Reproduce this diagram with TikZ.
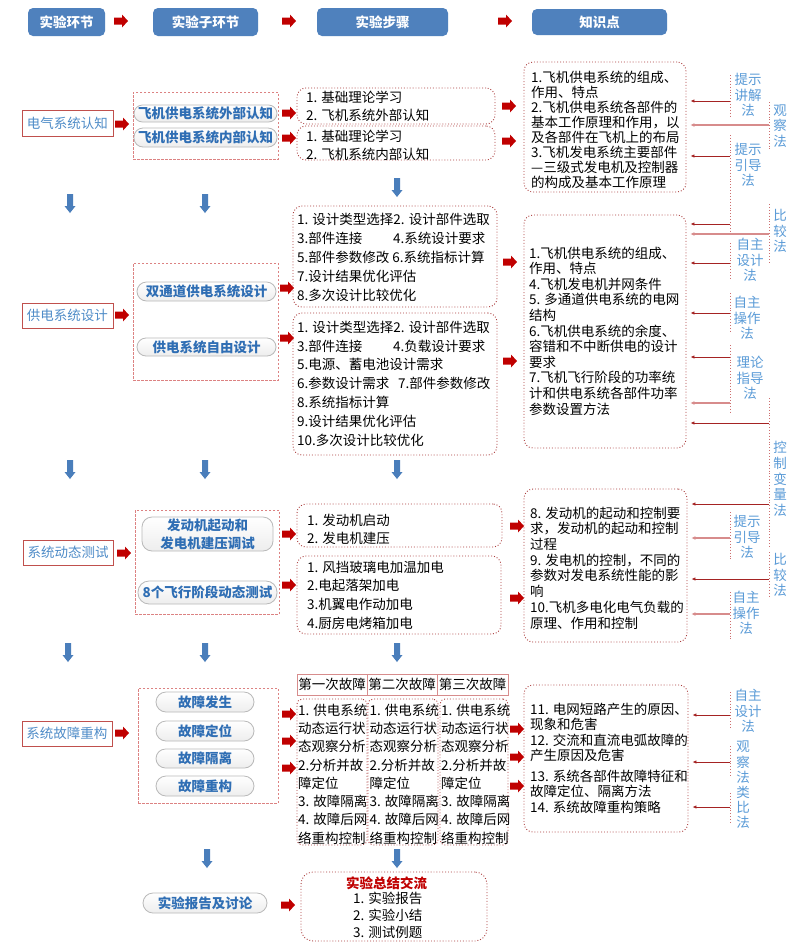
\documentclass[tikz,border=0pt]{standalone}
\usepackage{fontspec}
\setmainfont{Noto Sans CJK SC}
\usetikzlibrary{fit,arrows.meta}
\newcommand\myfs{\fontsize{13.5}{15}\selectfont}
\definecolor{hdrblue}{RGB}{79,129,189}
\definecolor{arrred}{RGB}{192,0,0}
\definecolor{arrblue}{RGB}{74,126,187}
\definecolor{boxred}{RGB}{192,80,77}
\definecolor{dotred}{RGB}{170,60,60}
\definecolor{dashpink}{RGB}{220,130,130}
\definecolor{lblue}{RGB}{79,140,200}
\definecolor{pblue}{RGB}{47,110,180}
\definecolor{mblue}{RGB}{90,155,215}
\definecolor{mred}{RGB}{165,35,35}
\definecolor{mpink}{RGB}{215,140,140}
\definecolor{vpink}{RGB}{205,110,110}
\begin{document}
\begin{tikzpicture}[x=1pt,y=-1pt,
  hdr/.style={fill=hdrblue, draw=none, rounded corners=5pt, text=white, font=\bfseries\myfs, inner sep=0pt},
  lbox/.style={draw=boxred, line width=0.9pt, fill=white, text=lblue, font=\myfs, inner sep=0pt},
  dbox/.style={draw=dashpink, dash pattern=on 2.5pt off 1.5pt, line width=0.8pt, inner sep=0pt},
  pill/.style={draw=gray!55, line width=0.8pt, top color=white, bottom color=gray!14, text=pblue, font=\bfseries\myfs, inner sep=0pt, align=center},
  sbox/.style={draw=dotred, dotted, line width=0.9pt, rounded corners=9pt, inner sep=0pt},
  fhead/.style={draw=mpink, line width=0.7pt, inner sep=0pt, font=\myfs},
  txt/.style={inner sep=0pt, align=left, anchor=west, font=\myfs},
  mlab/.style={text=mblue, align=center, inner sep=0pt, font=\fontsize{13.5}{15.5}\selectfont},
  vline/.style={draw=vpink, dotted, line width=0.9pt},
  marrow/.style={-{Latex[length=4pt,width=3.5pt]}, line width=0.9pt, draw=mred, shorten >=4pt},
  marrowp/.style={-{Latex[length=4pt,width=4pt]}, line width=1.8pt, draw=mpink, shorten >=4pt},
  rarr/.pic={\fill[arrred] (0,-3.5) -- (8,-3.5) -- (8,-6.5) -- (14,0) -- (8,6.5) -- (8,3.5) -- (0,3.5) -- cycle;},
  darr/.pic={\fill[arrblue] (-3,0) -- (3,0) -- (3,12) -- (5.5,12) -- (0,19) -- (-5.5,12) -- (-3,12) -- cycle;}
]
\useasboundingbox (0,0) rectangle (793,951);
\fill[white] (0,0) rectangle (793,951);

% ---------- header ----------
\node[hdr, minimum width=77pt, minimum height=28pt] (h1) at (66.5,22) {实验环节};
\node[hdr, minimum width=105pt, minimum height=28pt] (h2) at (205.5,22) {实验子环节};
\node[hdr, minimum width=131pt, minimum height=28pt] (h3) at (382.5,22) {实验步骤};
\node[hdr, minimum width=135pt, minimum height=26pt] (h4) at (599.5,22) {知识点};
\pic at (114,21) {rarr};
\pic at (282,21) {rarr};
\pic at (498,21) {rarr};

% ---------- row 1 ----------
\node[lbox, minimum width=91pt, minimum height=26pt] (L1) at (67.5,123) {电气系统认知};
\pic at (115,124) {rarr};
\node[dbox, fit={(133,92) (278,159)}] (D1) {};
\node[pill, rounded corners=8.5pt, minimum width=143pt, minimum height=17pt] (P1a) at (205.5,113.5) {飞机供电系统外部认知};
\node[pill, rounded corners=9pt, minimum width=143pt, minimum height=19pt] (P1b) at (205.5,137.5) {飞机供电系统内部认知};
\pic at (282,113) {rarr};
\pic at (282,138) {rarr};
\node[sbox, fit={(297,88) (495,124)}] (S1) {};
\node[txt, font=\fontsize{13.5}{18}\selectfont] (S1t) at (306,106) {1. 基础理论学习\\2. 飞机系统外部认知};
\node[sbox, fit={(297,126) (495,160)}] (S2) {};
\node[txt, font=\fontsize{13.5}{18}\selectfont] (S2t) at (306,145) {1. 基础理论学习\\2. 飞机系统内部认知};
\pic at (502,106) {rarr};
\pic at (502,141) {rarr};
\node[sbox, fit={(524,62) (686,192)}] (K1) {};
\node[txt] (K1t) at (531,129.5) {1.飞机供电系统的组成、\\作用、特点\\2.飞机供电系统各部件的\\基本工作原理和作用，以\\及各部件在飞机上的布局\\3.飞机发电系统主要部件\\—三级式发电机及控制器\\的构成及基本工作原理};

\pic at (70,194) {darr};
\pic at (205,194) {darr};
\pic at (397,178) {darr};

% ---------- row 2 ----------
\node[lbox, minimum width=91pt, minimum height=25pt] (L2) at (67.5,315.5) {供电系统设计};
\pic at (115,315) {rarr};
\node[dbox, fit={(133,263) (278,380)}] (D2) {};
\node[pill, rounded corners=9.5pt, minimum width=139pt, minimum height=19pt] (P2a) at (206.5,291.5) {双通道供电系统设计};
\node[pill, rounded corners=9pt, minimum width=139pt, minimum height=18pt] (P2b) at (206.5,347) {供电系统自由设计};
\pic at (280,288) {rarr};
\pic at (280,338) {rarr};
\node[sbox, fit={(293,206) (497,307)}] (SA) {};
\node[txt, font=\fontsize{13.5}{19}\selectfont] (SAt) at (297,257) {1. 设计类型选择2. 设计部件选取\\\makebox[96pt][l]{3.部件连接}4.系统设计要求\\5.部件参数修改 6.系统指标计算\\7.设计结果优化评估\\8.多次设计比较优化};
\node[sbox, fit={(293,313) (497,455)}] (SB) {};
\node[txt, font=\fontsize{13.5}{18.8}\selectfont] (SBt) at (297,383.5) {1. 设计类型选择2. 设计部件选取\\\makebox[96pt][l]{3.部件连接}4.负载设计要求\\5.电源、蓄电池设计需求\\\makebox[101pt][l]{6.参数设计需求}7.部件参数修改\\8.系统指标计算\\9.设计结果优化评估\\10.多次设计比较优化};
\pic at (503,262) {rarr};
\pic at (503,361) {rarr};
\node[sbox, fit={(524,215) (686,448)}] (K2) {};
\node[txt, font=\fontsize{13.5}{15.6}\selectfont] (K2t) at (529,331) {1.飞机供电系统的组成、\\作用、特点\\4.飞机发电机并网条件\\5. 多通道供电系统的电网\\结构\\6.飞机供电系统的余度、\\容错和不中断供电的设计\\要求\\7.飞机飞行阶段的功率统\\计和供电系统各部件功率\\参数设置方法};

\pic at (70,460) {darr};
\pic at (205,460) {darr};
\pic at (397,460) {darr};

% ---------- row 3 ----------
\node[lbox, minimum width=90pt, minimum height=25pt] (L3) at (68,552.5) {系统动态测试};
\pic at (117,553) {rarr};
\node[dbox, fit={(135,510) (279,614)}] (D3) {};
\node[pill, rounded corners=10pt, minimum width=131pt, minimum height=34pt, font=\bfseries\fontsize{13.5}{18}\selectfont] (P3a) at (207.5,534) {发动机起动和\\发电机建压调试};
\node[pill, rounded corners=11pt, minimum width=139pt, minimum height=23pt] (P3b) at (207.5,592.5) {8个飞行阶段动态测试};
\pic at (282,534) {rarr};
\pic at (282,585) {rarr};
\node[sbox, fit={(297,504) (502,547)}] (SC) {};
\node[txt, font=\fontsize{13.5}{18}\selectfont] (SCt) at (307,529) {1. 发动机启动\\2. 发电机建压};
\node[sbox, fit={(297,556) (501,634)}] (SD) {};
\node[txt, font=\fontsize{13.5}{18.7}\selectfont] (SDt) at (307,595) {1. 风挡玻璃电加温加电\\2.电起落架加电\\3.机翼电作动加电\\4.厨房电烤箱加电};
\pic at (510,526) {rarr};
\pic at (510,598) {rarr};
\node[sbox, fit={(524,489) (687,642)}] (K3) {};
\node[txt, font=\fontsize{13.5}{15.7}\selectfont] (K3t) at (530,568) {8. 发动机的起动和控制要\\求，发动机的起动和控制\\过程\\9. 发电机的控制，不同的\\参数对发电系统性能的影\\响\\10.飞机多电化电气负载的\\原理、作用和控制};

\pic at (68,643) {darr};
\pic at (205,643) {darr};
\pic at (397,643) {darr};

% ---------- row 4 ----------
\node[lbox, minimum width=90pt, minimum height=25pt] (L4) at (67,733.5) {系统故障重构};
\pic at (115,733) {rarr};
\node[dbox, fit={(138,688) (278,803)}] (D4) {};
\node[pill, rounded corners=10pt, minimum width=98pt, minimum height=20pt] (P4a) at (205,702) {故障发生};
\node[pill, rounded corners=10pt, minimum width=98pt, minimum height=20pt] (P4b) at (205,731) {故障定位};
\node[pill, rounded corners=9.5pt, minimum width=98pt, minimum height=19pt] (P4c) at (205,758.5) {故障隔离};
\node[pill, rounded corners=10pt, minimum width=98pt, minimum height=20pt] (P4d) at (205,786) {故障重构};
\pic at (282,714) {rarr};
\pic at (282,741) {rarr};
\pic at (282,768) {rarr};
\node[fhead, minimum width=70pt, minimum height=21pt] (F1h) at (332,684.5) {第一次故障};
\node[fhead, minimum width=70pt, minimum height=21pt] (F2h) at (402,684.5) {第二次故障};
\node[fhead, minimum width=71pt, minimum height=21pt] (F3h) at (472.5,684.5) {第三次故障};
\node[sbox, rounded corners=5pt, fit={(297,699) (367,845)}] (F1) {};
\node[sbox, rounded corners=5pt, fit={(368,699) (438,845)}] (F2) {};
\node[sbox, rounded corners=5pt, fit={(440,699) (508,845)}] (F3) {};
\node[txt, font=\fontsize{13.5}{18.3}\selectfont] (F1t) at (298,774) {1. 供电系统\\动态运行状\\态观察分析\\2.分析并故\\障定位\\3. 故障隔离\\4. 故障后网\\络重构控制};
\node[txt, font=\fontsize{13.5}{18.3}\selectfont] (F2t) at (369.5,774) {1. 供电系统\\动态运行状\\态观察分析\\2.分析并故\\障定位\\3. 故障隔离\\4. 故障后网\\络重构控制};
\node[txt, font=\fontsize{13.5}{18.3}\selectfont] (F3t) at (441,774) {1. 供电系统\\动态运行状\\态观察分析\\2.分析并故\\障定位\\3. 故障隔离\\4. 故障后网\\络重构控制};
\pic at (510,729) {rarr};
\pic at (510,757) {rarr};
\pic at (510,786) {rarr};
\node[sbox, fit={(524,685) (688,832)}] (K4) {};
\node[txt, font=\fontsize{13.5}{15.5}\selectfont] (K4t) at (530,758) {11. 电网短路产生的原因、\\现象和危害\\12. 交流和直流电弧故障的\\产生原因及危害\\[5pt]13. 系统各部件故障特征和\\故障定位、隔离方法\\14. 系统故障重构策略};

\pic at (207,849) {darr};
\pic at (397,849) {darr};

% ---------- row 5 ----------
\node[pill, rounded corners=10pt, minimum width=124pt, minimum height=20pt] (P5) at (205,903) {实验报告及讨论};
\pic at (281,905) {rarr};
\node[sbox, rounded corners=12pt, fit={(301,872) (487,941)}] (SUM) {};
\node[inner sep=0pt, text=arrred, font=\bfseries\myfs] (SUMt) at (386.5,883) {实验总结交流};
\node[txt, font=\fontsize{13.5}{17}\selectfont] (SUMi) at (353,915) {1. 实验报告\\2. 实验小结\\3. 测试例题};

% ---------- teaching methods ----------
\node[mlab] (m1) at (748,95) {提示\\讲解\\法};
\node[mlab] (m2) at (748,165) {提示\\引导\\法};
\node[mlab] (m3) at (750,260) {自主\\设计\\法};
\node[mlab] (m4) at (747,318) {自主\\操作\\法};
\node[mlab] (m5) at (750,378) {理论\\指导\\法};
\node[mlab] (m6) at (747,537) {提示\\引导\\法};
\node[mlab] (m7) at (746,613) {自主\\操作\\法};
\node[mlab] (m8) at (748,711) {自主\\设计\\法};
\node[mlab, font=\fontsize{13.5}{15.2}\selectfont] (m9) at (743,785) {观\\察\\法\\类\\比\\法};
\node[mlab] (o1) at (780,126) {观\\察\\法};
\node[mlab] (o2) at (780,231) {比\\较\\法};
\node[mlab, font=\fontsize{13.5}{15.8}\selectfont] (o3) at (780,479) {控\\制\\变\\量\\法};
\node[mlab] (o4) at (780,575) {比\\较\\法};

% vertical dotted lines
\draw[vline] (730,75) -- (730,117);
\draw[vline] (730,135) -- (730,233);
\draw[vline] (730,243) -- (730,280);
\draw[vline] (730,293) -- (730,332);
\draw[vline] (730,345) -- (730,413);
\draw[vline] (730,512) -- (730,560);
\draw[vline] (730,592) -- (730,640);
\draw[vline] (730,692) -- (730,728);
\draw[vline] (730,746) -- (730,777);
\draw[vline] (730,793) -- (730,823);
\draw[vline] (769,102) -- (769,149);
\draw[vline] (769,204) -- (769,263);
\draw[vline] (769,398) -- (769,547);
\draw[vline] (769,552) -- (769,597);

% method connectors
\coordinate (a1) at (730,101);  \draw[marrow] (a1) -- (a1 -| K1.east);
\coordinate (a2) at (769,125);  \draw[marrowp] (a2) -- (a2 -| K1.east);
\coordinate (a3) at (730,156);  \draw[marrow] (a3) -- (a3 -| K1.east);
\coordinate (a4) at (730,224);  \draw[marrow] (a4) -- (a4 -| K2.east);
\coordinate (a5) at (769,234);  \draw[marrowp] (a5) -- (a5 -| K2.east);
\coordinate (a6) at (730,263);  \draw[marrow] (a6) -- (a6 -| K2.east);
\coordinate (a7) at (730,313);  \draw[marrow] (a7) -- (a7 -| K2.east);
\coordinate (a8) at (730,357);  \draw[marrow] (a8) -- (a8 -| K2.east);
\coordinate (a9) at (730,403);  \draw[marrowp] (a9) -- (a9 -| K2.east);
\coordinate (a10) at (769,423); \draw[marrow] (a10) -- (a10 -| K2.east);
\coordinate (a11) at (769,504); \draw[marrow] (a11) -- (a11 -| K3.east);
\coordinate (a12) at (730,538); \draw[marrowp] (a12) -- (a12 -| K3.east);
\coordinate (a13) at (769,579); \draw[marrow] (a13) -- (a13 -| K3.east);
\coordinate (a14) at (730,614); \draw[marrowp] (a14) -- (a14 -| K3.east);
\coordinate (a15) at (730,715); \draw[marrow] (a15) -- (a15 -| K4.east);
\coordinate (a16) at (730,762); \draw[marrow] (a16) -- (a16 -| K4.east);
\coordinate (a17) at (730,807); \draw[marrow] (a17) -- (a17 -| K4.east);
\end{tikzpicture}
\end{document}
